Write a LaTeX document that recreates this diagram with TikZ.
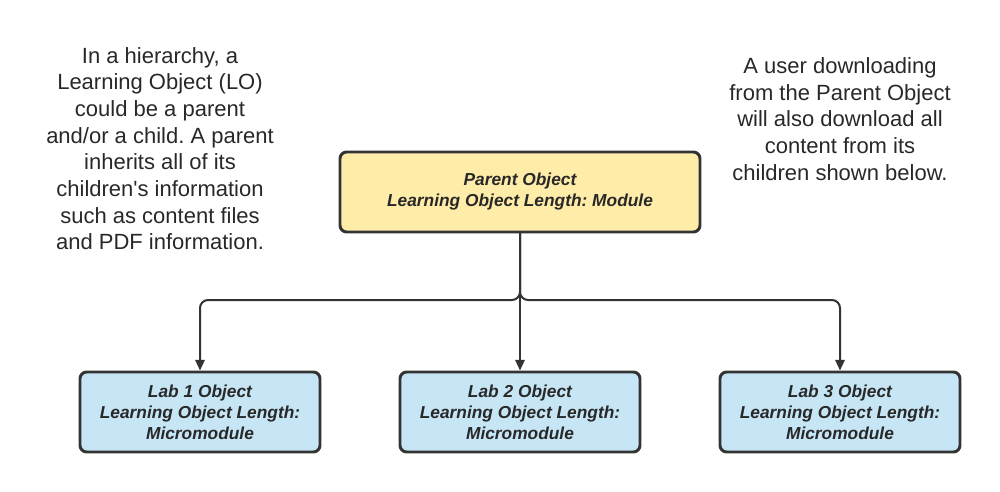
\documentclass[tikz,border=0pt]{standalone}
\usepackage{fontspec}
\setmainfont{Liberation Sans}
\usetikzlibrary{arrows.meta}
\definecolor{edge}{HTML}{333333}
\definecolor{yel}{HTML}{FFECA8}
\definecolor{blu}{HTML}{C7E6F5}
\definecolor{txt}{HTML}{282828}
\frenchspacing
\tikzset{
  box/.style={draw=edge, line width=2.2pt, rounded corners=5pt, align=center,
    font=\fontsize{13}{15.75}\selectfont\bfseries\itshape, text=txt, inner sep=0pt},
  parentbox/.style={box, fill=yel, minimum width=270pt, minimum height=60pt},
  labbox/.style={box, fill=blu, minimum width=180pt, minimum height=60pt},
  note/.style={align=center, font=\fontsize{16.5}{20}\selectfont, text=txt},
  conn/.style={draw=edge, line width=1.5pt, rounded corners=6pt, -{Triangle[length=8pt,width=7pt]}}
}
\begin{document}
\begin{tikzpicture}[x=0.75pt,y=-0.75pt]
\useasboundingbox (0,0) rectangle (1000,492);
\node[parentbox] (parent) at (520,192) {Parent Object\\Learning Object Length: Module};
\node[labbox] (lab1) at (200,412) {Lab 1 Object\\Learning Object Length:\\Micromodule};
\node[labbox] (lab2) at (520,412) {Lab 2 Object\\Learning Object Length:\\Micromodule};
\node[labbox] (lab3) at (840,412) {Lab 3 Object\\Learning Object Length:\\Micromodule};
\coordinate (j) at (520,300);
\draw[conn] (parent.south) -- (j) -| (lab1.north);
\draw[conn] (parent.south) -- (j) -| (lab3.north);
\draw[conn] (parent.south) -- (lab2.north);
\node[note] (left) at (160,148.5) {In a hierarchy, a\\Learning Object (LO)\\could be a parent\\and/or a child. A parent\\inherits all of its\\children\textquotesingle s information\\such as content files\\and PDF information.};
\node[note] (right) at (840,119) {A user downloading\\from the Parent Object\\will also download all\\content from its\\children shown below.};
\end{tikzpicture}
\end{document}
